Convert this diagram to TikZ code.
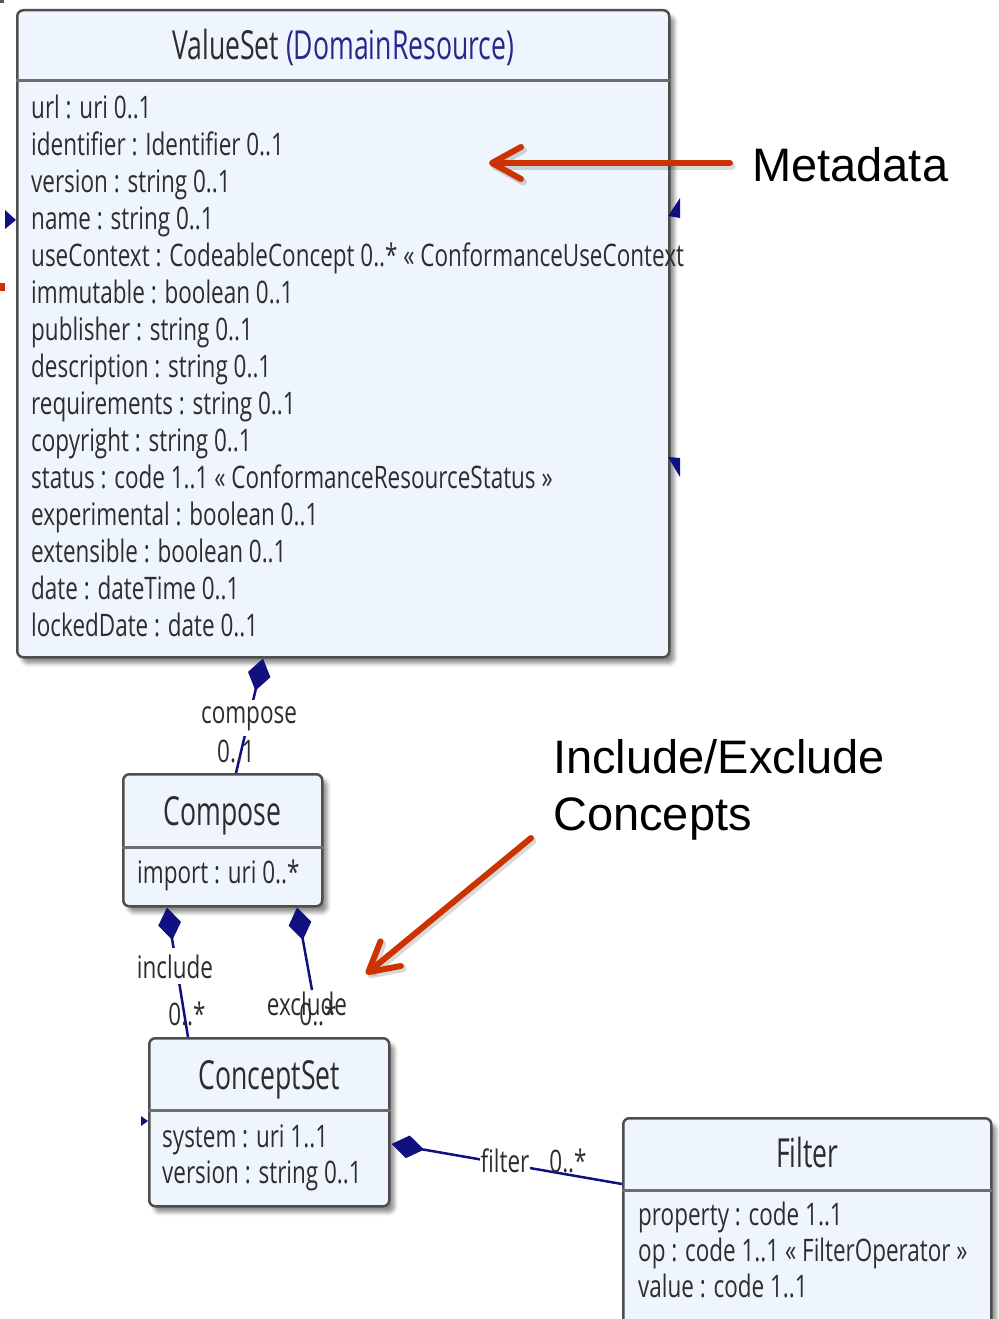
\documentclass[tikz,border=0pt]{standalone}
\usepackage{fontspec}
\setmainfont{Liberation Sans}
\newfontfamily\umlfont[FakeStretch=0.725]{Open Sans}
\newfontfamily\umltitlefont[FakeStretch=0.665]{Open Sans}
\usetikzlibrary{arrows.meta,shadows.blur,calc}
\definecolor{boxfill}{RGB}{238,245,253}
\definecolor{boxline}{RGB}{78,78,78}
\definecolor{boxrule}{RGB}{110,110,110}
\definecolor{umlnavy}{RGB}{16,16,128}
\definecolor{supername}{RGB}{40,40,140}
\definecolor{umltext}{RGB}{45,45,45}
\definecolor{callout}{RGB}{204,51,0}

\begin{document}
\begin{tikzpicture}[x=1pt,y=-1pt,
  classbox/.style={draw=boxline, line width=2.5pt, fill=boxfill, rounded corners=6pt,
    anchor=north west, inner sep=0pt,
    blur shadow={shadow xshift=5pt, shadow yshift=-6pt, shadow blur radius=4pt, shadow opacity=45}},
  divider/.style={draw=boxrule, line width=3pt},
  ctitle/.style={font=\umltitlefont\fontsize{40}{48}\selectfont, text=umltext, anchor=base, inner sep=0pt},
  attr/.style={font=\umlfont\fontsize{31}{37}\selectfont, text=umltext, anchor=base west, inner sep=0pt},
  role/.style={font=\umlfont\fontsize{31}{37}\selectfont, text=umltext, anchor=base, inner sep=0pt},
  masked/.style={fill=white, inner xsep=1pt, inner ysep=6pt},
  composition/.style={draw=umlnavy, line width=2.5pt,
    {Diamond[length=33pt,width=23pt,fill=umlnavy]}-},
  callarrow/.style={draw=callout, line width=6pt, line cap=round,
    -{Straight Barb[length=29pt,width=32pt,round]}},
  callshadow/.style={draw=black, opacity=0.15, line width=7pt, line cap=round,
    -{Straight Barb[length=29pt,width=32pt,round]}, transform canvas={shift={(2pt,-3pt)}}},
  note/.style={font=\fontsize{47}{56}\selectfont, text=black, anchor=base west, inner sep=0pt},
]
\useasboundingbox (0,0) rectangle (998,1319);

% ---------- ValueSet ----------
\node[classbox, minimum width=652pt, minimum height=647pt] (vs) at (16,9) {};
\draw[divider] ($(vs.north west)+(0,72)$) -- ($(vs.north east)+(0,72)$);
\node[ctitle] (vstitle) at ($(vs.north)+(0,51)$) {ValueSet \textcolor{supername}{(DomainResource)}};
\foreach \t [count=\i] in {
  url : uri 0..1,
  identifier : Identifier 0..1,
  version : string 0..1,
  name : string 0..1,
  useContext : CodeableConcept 0..* « ConformanceUseContext,
  immutable : boolean 0..1,
  publisher : string 0..1,
  description : string 0..1,
  requirements : string 0..1,
  copyright : string 0..1,
  status : code 1..1 « ConformanceResourceStatus »,
  experimental : boolean 0..1,
  extensible : boolean 0..1,
  date : dateTime 0..1,
  lockedDate : date 0..1}
  \node[attr] (vsa\i) at ($(vs.north west)+(15,72+37*\i)$) {\t};

% ---------- Compose ----------
\node[classbox, minimum width=199pt, minimum height=132pt] (cmp) at (122,773) {};
\draw[divider] ($(cmp.north west)+(0,74)$) -- ($(cmp.north east)+(0,74)$);
\node[ctitle] (cmptitle) at ($(cmp.north)+(0,52)$) {Compose};
\node[attr] (cmpa1) at ($(cmp.north west)+(15,110)$) {import : uri 0..*};

% ---------- ConceptSet ----------
\node[classbox, minimum width=240pt, minimum height=168pt] (cs) at (148,1037) {};
\draw[divider] ($(cs.north west)+(0,73)$) -- ($(cs.north east)+(0,73)$);
\node[ctitle] (cstitle) at ($(cs.north)+(0,52)$) {ConceptSet};
\node[attr] (csa1) at ($(cs.north west)+(14,110)$) {system : uri 1..1};
\node[attr] (csa2) at ($(cs.north west)+(14,146)$) {version : string 0..1};

% ---------- Filter ----------
\node[classbox, minimum width=368pt, minimum height=240pt] (flt) at (622,1117) {};
\draw[divider] ($(flt.north west)+(0,73)$) -- ($(flt.north east)+(0,73)$);
\node[ctitle] (flttitle) at ($(flt.north)+(0,50)$) {Filter};
\node[attr] (flta1) at ($(flt.north west)+(16,108)$) {property : code 1..1};
\node[attr] (flta2) at ($(flt.north west)+(16,144)$) {op : code 1..1 « FilterOperator »};
\node[attr] (flta3) at ($(flt.north west)+(16,180)$) {value : code 1..1};

% ---------- associations ----------
\coordinate (exend) at (312,990);
\draw[composition] ($(vs.south west)+(247,0)$) -- ($(cmp.north west)+(114,0)$);
\draw[composition] ($(cmp.south west)+(45,0)$) -- ($(cs.north west)+(40,0)$);
\draw[composition] ($(cmp.south west)+(175,0)$) -- (exend);
\draw[composition] ($(cs.north east)+(1,107)$) -- ($(flt.north west)+(0,67)$);

\node[role, masked] (lcompose) at (249,723) {compose};
\node[role] (mcompose) at (236,762) {0..1};
\node[role, masked] (linclude) at (175,978) {include};
\node[role] (minclude) at (187,1025) {0..*};
\node[role] (lexclude) at (307,1015) {exclude};
\node[role] (mexclude) at (318,1025) {0..*};
\node[role, masked] (lfilter) at (505,1172) {filter};
\node[role] (mfilter) at (568,1172) {0..*};

% ends of associations leaving the visible area
\fill[umlnavy] (680,198) -- (668,216) -- (680,218) -- cycle;
\fill[umlnavy] (668,457) -- (680,458) -- (680,477) -- cycle;
\fill[umlnavy] (5,210) -- (16,220) -- (5,229) -- cycle;
\fill[umlnavy] (141,1116) -- (148,1121) -- (141,1126) -- cycle;
\fill[callout] (0,283) rectangle (5,291);
\fill[gray!70!black] (0,0) rectangle (4,3);

% ---------- callouts ----------
\node[note] (mdnote) at (752,181) {Metadata};
\node[note] (ienote1) at (553,773) {Include/Exclude};
\node[note] (ienote2) at (553,830) {Concepts};

\coordinate (mdfrom) at (730,163);
\coordinate (mdto) at (489,163);
\coordinate (iefrom) at (531,838);
\coordinate (ieto) at (366,974);
\draw[callshadow] (mdfrom) -- (mdto);
\draw[callshadow] (iefrom) -- (ieto);
\draw[callarrow] (mdfrom) -- (mdto);
\draw[callarrow] (iefrom) -- (ieto);
\end{tikzpicture}
\end{document}
